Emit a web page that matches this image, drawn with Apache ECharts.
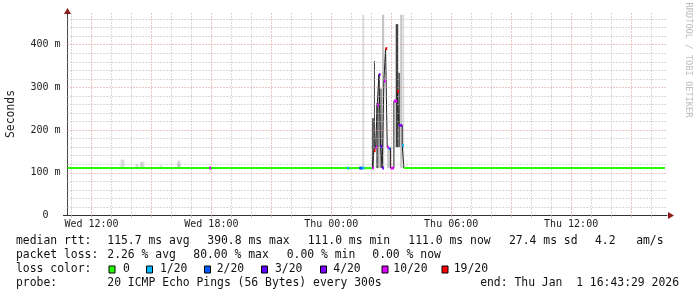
<!DOCTYPE html>
<html><head><meta charset="utf-8">
<script src="https://cdn.jsdelivr.net/npm/echarts@6/dist/echarts.min.js"></script>
<style>html,body{margin:0;padding:0;background:#fff}#c{width:697px;height:297px}</style>
</head><body><div id="c"></div>
<script>
// ---- time axis (hours since Wed 00:00) ----
const xMin = 10.8, xMax = 40.8;
const xTickHours = [12, 18, 24, 30, 36];
const xTickLabels = ['Wed 12:00', 'Wed 18:00', 'Thu 00:00', 'Thu 06:00', 'Thu 12:00'];
const xMinorHours = [11,12,13,14,15,16,17,18,19,20,21,22,23,24,25,26,27,28,29,30,31,32,33,34,35,36,37,38,39,40];
const xMajorHours = [12,15,18,21,24,27,30,33,36,39];
// ---- value axis (ms) ----
const yMax = 473;
const yTickValues = [0, 100, 200, 300, 400];
const yTickLabels = ['0  ', '100 m', '200 m', '300 m', '400 m'];
const yMinor = [20,40,60,80,120,140,160,180,220,240,260,280,320,340,360,380,420,440,460];
const yMajor = [100,200,300,400];

// ---- median rtt: flat runs (start h, end h, ms, loss class) ----
const runStart = [10.8, 17.9, 17.98, 24.8, 24.9, 25.4, 25.55, 25.65, 27.633];
const runEnd   = [17.9, 17.98, 24.8, 24.9, 25.4, 25.55, 25.65, 26.05, 40.7];
const runValue = [111, 111, 111, 111, 111, 111, 111, 111, 111];
const runLoss  = [0, 5, 0, 1, 0, 2, 1, 0, 0];
// ---- median rtt: 5-minute samples of the spike episode ----
const spikeStartHour = 26.05;
const spikeStepMinutes = 5;
const spikeValue = [111, 152, 160, 259, 330, 162, 111, 315, 390.8, 160, 157, 111, 111, 268, 268, 291, 211, 211, 164];
const spikeLoss  = [5, 6, 5, 5, 4, 3, 3, 5, 6, 5, 2, 5, 5, 5, 5, 6, 4, 4, 1];

// ---- smoke (ping spread) ----
const smokeStart = [13.45, 14.2, 14.45, 14.55, 15.4, 16.3, 16.3, 25.55, 26.035, 26.135, 26.25, 26.365, 26.415, 26.535, 26.8, 27.225, 27.35, 27.45, 27.55];
const smokeEnd   = [13.65, 14.35, 14.55, 14.65, 15.55, 16.45, 16.45, 25.65, 26.135, 26.185, 26.365, 26.415, 26.535, 26.65, 27.0, 27.35, 27.45, 27.55, 27.65];
const smokeLow   = [111, 111, 111, 111, 111, 111, 111, 111, 111, 152, 111, 160, 111, 111, 111, 160, 160, 111, 111];
const smokeHigh  = [131, 120, 125, 127, 117, 129, 123, 470, 228, 362, 263, 330, 297, 470, 160, 448, 334, 470, 470];
const smokeLevel = [1, 1, 2, 1, 1, 1, 2, 1, 4, 5, 4, 4, 3, 2, 2, 5, 4, 2, 1];

// ---- legend ----
const lossLabels = ['0', '1/20', '2/20', '3/20', '4/20', '10/20', '19/20'];
const lossColors = ['#26ff00', '#00b8ff', '#0059ff', '#5e00ff', '#7e00ff', '#dd00ff', '#ff0000'];
const rttTexts  = ['median rtt:', '115.7 ms avg', '390.8 ms max', '111.0 ms min', '111.0 ms now', '27.4 ms sd', '4.2   am/s'];
const lossTexts = ['packet loss:', '2.26 % avg', '80.00 % max', '0.00 % min', '0.00 % now'];
const probeTexts = ['probe:', '20 ICMP Echo Pings (56 Bytes) every 300s'];
const endText = 'end: Thu Jan  1 16:43:29 2026';
const yAxisName = 'Seconds';
const watermark = 'RRDTOOL / TOBI OETIKER';

// ---- build ----
const runs = [];
for (let i = 0; i < runStart.length; i++) runs.push([runStart[i], runEnd[i], runValue[i], runLoss[i]]);
for (let k = 0; k < spikeValue.length; k++) {
  const s = spikeStartHour + k * spikeStepMinutes / 60;
  runs.push([s, s + spikeStepMinutes / 60, spikeValue[k], spikeLoss[k]]);
}
runs.sort((a, b) => a[0] - b[0]);
const stepData = runs.map(r => [r[0], r[2]]);
stepData.push([runs[runs.length - 1][1], runs[runs.length - 1][2]]);

const smokeData = smokeStart.map((s, i) => [s, smokeEnd[i], smokeLow[i], smokeHigh[i], smokeLevel[i]]);
const smokeColors = {1: '#dcdcdc', 2: '#c6c6c6', 3: '#8c8c8c', 4: '#5f5f5f', 5: '#3f3f3f'};

const MONO = '"DejaVu Sans Mono", monospace';
const gridMinor = {color: '#b4b4b4', type: [1, 2], width: 1};
const gridMajor = {color: '#de8c8c', type: [1, 2], width: 1};

const graphics = [];
function txt(x, y, t, extra) {
  graphics.push(Object.assign({type: 'text', x: x, y: y, silent: true,
    style: {text: t, fontFamily: MONO, fontSize: 11.4, fill: '#111', verticalAlign: 'middle', align: 'left'}}, extra || {}));
}
const rttX = [16, 107.3, 207.3, 307.7, 408.3, 509, 595];
rttTexts.forEach((t, i) => txt(rttX[i], 241.5, t));
const lossX = [16, 107.3, 193.3, 286.7, 372.3];
lossTexts.forEach((t, i) => txt(lossX[i], 255.5, t));
txt(16, 269.5, 'loss color:');
const boxX = [109, 146.5, 204.5, 261.5, 320.5, 382, 442];
const lblX = [123, 160, 216.7, 275, 333.3, 393.3, 453.7];
lossLabels.forEach((l, i) => {
  graphics.push({type: 'rect', silent: true, shape: {x: boxX[i], y: 266, width: 6, height: 7},
    style: {fill: lossColors[i], stroke: '#000', lineWidth: 1}});
  txt(lblX[i], 269.5, l);
});
txt(16, 283.5, probeTexts[0]);
txt(107.3, 283.5, probeTexts[1]);
graphics.push({type: 'text', x: 679, y: 283.5, silent: true,
  style: {text: endText, fontFamily: MONO, fontSize: 11.4, fill: '#111', verticalAlign: 'middle', align: 'right'}});
graphics.push({type: 'text', x: 11, y: 114, rotation: Math.PI / 2, silent: true,
  style: {text: yAxisName, fontFamily: MONO, fontSize: 11.4, fill: '#222', align: 'center', verticalAlign: 'middle'}});
graphics.push({type: 'text', x: 688, y: 60, rotation: -Math.PI / 2, silent: true,
  style: {text: watermark, fontFamily: MONO, fontSize: 8.7, fill: '#bdbdbd', align: 'center', verticalAlign: 'middle'}});
graphics.push({type: 'line', silent: true, shape: {x1: 63, y1: 215.5, x2: 68, y2: 215.5}, style: {stroke: '#333', lineWidth: 1}});
graphics.push({type: 'polygon', silent: true, shape: {points: [[64, 14], [71, 14], [67.5, 8]]}, style: {fill: '#8e1b1b'}});
graphics.push({type: 'polygon', silent: true, shape: {points: [[668, 212], [668, 219], [674, 215.5]]}, style: {fill: '#8e1b1b'}});

const option = {
  animation: false,
  backgroundColor: '#fff',
  grid: {left: 67.5, right: 30, top: 13.5, bottom: 81.5, containLabel: false},
  xAxis: {
    type: 'value', min: xMin, max: xMax,
    axisLine: {show: true, onZero: false, lineStyle: {color: '#333', width: 1}},
    axisTick: {show: true, customValues: xMinorHours, length: 2, lineStyle: {color: '#bbbbbb'}},
    splitLine: {show: false},
    axisLabel: {customValues: xTickHours, margin: 4, fontFamily: MONO, fontSize: 10, color: '#222',
      formatter: v => { const i = xTickHours.indexOf(v); return i >= 0 ? xTickLabels[i] : ''; }}
  },
  yAxis: {
    type: 'value', min: 0, max: yMax, interval: 100,
    axisLine: {show: true, lineStyle: {color: '#444', width: 1}},
    axisTick: {show: false}, splitLine: {show: false},
    axisLabel: {margin: 7, fontFamily: MONO, fontSize: 10, color: '#222',
      formatter: v => { const i = yTickValues.indexOf(v); return i >= 0 ? yTickLabels[i] : ''; }}
  },
  graphic: {elements: graphics},
  series: [
    {
      type: 'line', data: [], z: 1, silent: true,
      markLine: {silent: true, symbol: ['none', 'none'], label: {show: false}, animation: false,
        data: [].concat(
          xMinorHours.filter(h => xMajorHours.indexOf(h) < 0).map(h => ({xAxis: h, lineStyle: gridMinor})),
          yMinor.map(v => ({yAxis: v, lineStyle: gridMinor})),
          xMajorHours.map(h => ({xAxis: h, lineStyle: gridMajor})),
          yMajor.map(v => ({yAxis: v, lineStyle: gridMajor}))
        )}
    },
    {
      type: 'custom', z: 2, silent: true, data: smokeData,
      encode: {x: [0, 1], y: [2, 3]},
      renderItem: (params, api) => {
        const p0 = api.coord([api.value(0), api.value(3)]);
        const p1 = api.coord([api.value(1), api.value(2)]);
        return {type: 'rect', shape: {x: p0[0], y: p0[1], width: p1[0] - p0[0], height: p1[1] - p0[1]},
          style: {fill: smokeColors[api.value(4)]}};
      }
    },
    {
      type: 'line', z: 3, silent: true, data: stepData, step: 'end', symbol: 'none',
      lineStyle: {color: '#202020', width: 1}
    },
    {
      type: 'custom', z: 4, silent: true, data: runs,
      encode: {x: [0, 1], y: 2},
      renderItem: (params, api) => {
        const p0 = api.coord([api.value(0), api.value(2)]);
        const p1 = api.coord([api.value(1), api.value(2)]);
        const loss = api.value(3);
        const h = loss === 0 ? 2 : 3;
        return {type: 'rect', shape: {x: p0[0], y: p0[1] - h / 2, width: Math.max(p1[0] - p0[0], 1.5), height: h},
          style: {fill: lossColors[loss]}};
      }
    }
  ]
};
const chart = echarts.init(document.getElementById('c'), null, {renderer: 'canvas'});
chart.setOption(option);
</script>
</body></html>
